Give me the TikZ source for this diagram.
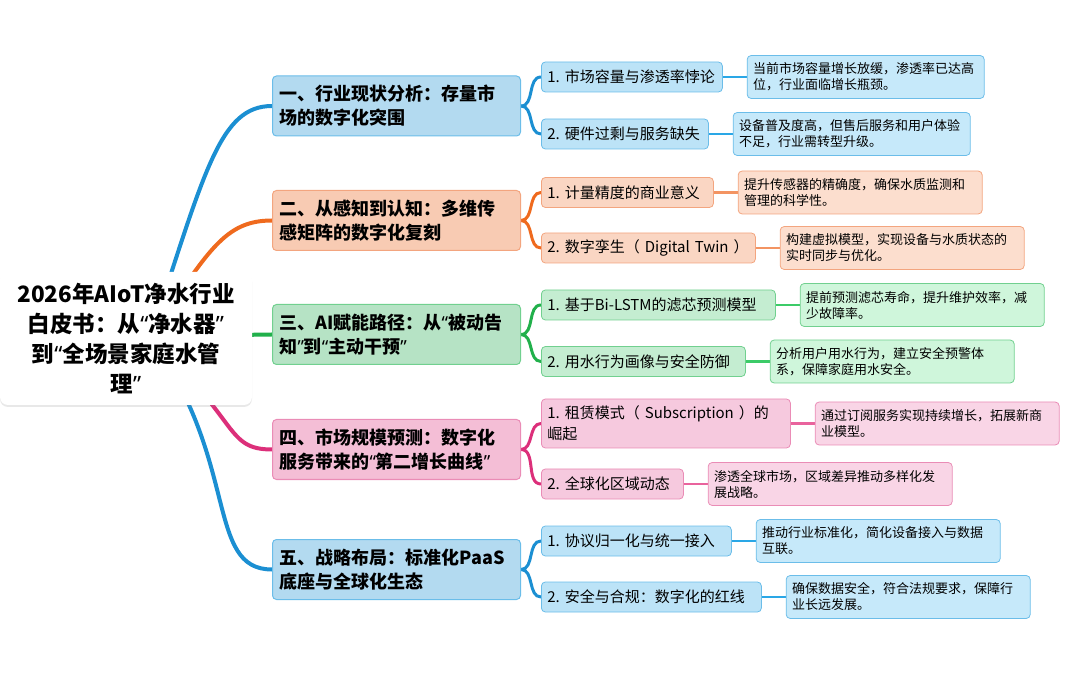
\documentclass[tikz,border=0pt]{standalone}
\usepackage{fontspec}
\setmainfont{Noto Sans CJK SC}
\newfontfamily\quotefont{Noto Sans}
\newcommand{\qL}{{\quotefont “}}
\newcommand{\qR}{{\quotefont ”}}
\usetikzlibrary{positioning,backgrounds,shadows}

% Branch colours
\definecolor{blueline}{HTML}{1B8FD2}
\definecolor{bluethin}{HTML}{2AA7E6}
\definecolor{blueedge}{HTML}{6BBDE9}
\definecolor{bluemain}{HTML}{B3DAF0}
\definecolor{bluesub}{HTML}{BCE3F7}
\definecolor{bluenote}{HTML}{C6E9FA}
\definecolor{orangeline}{HTML}{EF6A1E}
\definecolor{orangethin}{HTML}{F39462}
\definecolor{orangeedge}{HTML}{F3A57F}
\definecolor{orangemain}{HTML}{F8CBB3}
\definecolor{orangesub}{HTML}{FAD6C3}
\definecolor{orangenote}{HTML}{FCDECE}
\definecolor{greenline}{HTML}{21B04B}
\definecolor{greenthin}{HTML}{3CCB68}
\definecolor{greenedge}{HTML}{71D08F}
\definecolor{greenmain}{HTML}{B6E3C5}
\definecolor{greensub}{HTML}{C4EDD1}
\definecolor{greennote}{HTML}{CFF6DB}
\definecolor{pinkline}{HTML}{DC2F7A}
\definecolor{pinkthin}{HTML}{E9639D}
\definecolor{pinkedge}{HTML}{EA8CB6}
\definecolor{pinkmain}{HTML}{F4BED6}
\definecolor{pinksub}{HTML}{F6C9DE}
\definecolor{pinknote}{HTML}{F9D5E6}

\tikzset{
  rootnode/.style={fill=white, rounded corners=8pt, text width=244pt, minimum width=252pt,
    minimum height=133pt, align=center, inner sep=4pt,
    drop shadow={opacity=0.18, shadow xshift=0pt, shadow yshift=-2pt},
    font=\bfseries\fontsize{22.5}{30}\selectfont},
  mainnode/.style={draw=#1edge, fill=#1main, line width=1pt, rounded corners=4pt, anchor=west,
    text width=234pt, minimum height=60pt, inner xsep=7pt, align=left,
    font=\bfseries\fontsize{18}{24}\selectfont},
  subnode/.style={draw=#1edge, fill=#1sub, line width=0.8pt, rounded corners=4pt, anchor=west,
    minimum height=30pt, inner xsep=6pt, align=left, font=\fontsize{15}{21}\selectfont},
  notenode/.style={draw=#1edge, fill=#1note, line width=0.8pt, rounded corners=4pt,
    text width=232pt, minimum height=43pt, inner xsep=6pt, align=left,
    font=\fontsize{13}{16}\selectfont},
  rootline/.style={draw=#1line, line width=4pt, line cap=round},
  braceline/.style={draw=#1line, line width=3pt, line cap=round},
  noteline/.style={draw=#1thin, line width=2.5pt},
}

\begin{document}
\begin{tikzpicture}[x=1pt, y=-1pt]
    \useasboundingbox (0,0) rectangle (1080,676);

    % Root
    \node[rootnode] (root) at (126,338.5) {2026年AIoT净水行业\\白皮书：从\qL 净水器\qR\\到\qL 全场景家庭水管\\理\qR};

    % Main topics
    \node[mainnode=blue] (m1) at (272,106) {一、行业现状分析：存量市\\场的数字化突围};
    \node[mainnode=orange] (m2) at (272,220.5) {二、从感知到认知：多维传\\感矩阵的数字化复刻};
    \node[mainnode=green] (m3) at (272,334.5) {三、AI赋能路径：从\qL 被动告\\知\qR 到\qL 主动干预\qR};
    \node[mainnode=pink] (m4) at (272,449.5) {四、市场规模预测：数字化\\服务带来的\qL 第二增长曲线\qR};
    \node[mainnode=blue] (m5) at (272,569.5) {五、战略布局：标准化PaaS\\底座与全球化生态};

    % Subtopics
    \node[subnode=blue, text width=169pt] (s11) at (541,77) {1.~市场容量与渗透率悖论};
    \node[subnode=blue, text width=155pt] (s12) at (541,134) {2.~硬件过剩与服务缺失};
    \node[subnode=orange, text width=160pt] (s21) at (541,192.5) {1.~计量精度的商业意义};
    \node[subnode=orange, text width=202pt] (s22) at (541,248) {2.~数字孪生（~Digital~Twin~）};
    \node[subnode=green, text width=222pt] (s31) at (541,305) {1.~基于Bi-LSTM的滤芯预测模型};
    \node[subnode=green, text width=192pt] (s32) at (541,361.5) {2.~用水行为画像与安全防御};
    \node[subnode=pink, text width=237pt, minimum height=49pt] (s41) at (541,423.5) {1.~租赁模式（~Subscription~）的\\崛起};
    \node[subnode=pink, text width=130pt] (s42) at (541,484) {2.~全球化区域动态};
    \node[subnode=blue, text width=178pt] (s51) at (541,541) {1.~协议归一化与统一接入};
    \node[subnode=blue, text width=208pt] (s52) at (541,597) {2.~安全与合规：数字化的红线};

    % Notes
    \node[notenode=blue, text width=225pt, right=24pt of s11] (d11) {当前市场容量增长放缓，渗透率已达高\\位，行业面临增长瓶颈。};
    \node[notenode=blue, text width=225pt, right=24pt of s12] (d12) {设备普及度高，但售后服务和用户体验\\不足，行业需转型升级。};
    \node[notenode=orange, right=24pt of s21] (d21) {提升传感器的精确度，确保水质监测和\\管理的科学性。};
    \node[notenode=orange, right=24pt of s22] (d22) {构建虚拟模型，实现设备与水质状态的\\实时同步与优化。};
    \node[notenode=green, right=24pt of s31] (d31) {提前预测滤芯寿命，提升维护效率，减\\少故障率。};
    \node[notenode=green, right=24pt of s32] (d32) {分析用户用水行为，建立安全预警体\\系，保障家庭用水安全。};
    \node[notenode=pink, right=24pt of s41] (d41) {通过订阅服务实现持续增长，拓展新商\\业模型。};
    \node[notenode=pink, right=24pt of s42] (d42) {渗透全球市场，区域差异推动多样化发\\展战略。};
    \node[notenode=blue, right=24pt of s51] (d51) {推动行业标准化，简化设备接入与数据\\互联。};
    \node[notenode=blue, right=24pt of s52] (d52) {确保数据安全，符合法规要求，保障行\\业长远发展。};

    % Connectors
    \begin{scope}[on background layer]
        \draw[rootline=blue] ([xshift=24pt]root.center) .. controls (205,170) and (220,106) .. (m1.west);
        \draw[rootline=orange] ([xshift=24pt]root.center) .. controls (208,250) and (225,220.5) .. (m2.west);
        \draw[rootline=green] ([xshift=24pt]root.center) .. controls (220,338) and (230,334.5) .. (m3.west);
        \draw[rootline=pink] ([xshift=24pt]root.center) .. controls (240,420) and (225,449.5) .. (m4.west);
        \draw[rootline=blue] ([xshift=24pt]root.center) .. controls (240,460) and (205,569.5) .. (m5.west);

        \foreach \m/\s/\c in {m1/s11/blue, m1/s12/blue, m2/s21/orange, m2/s22/orange, m3/s31/green,
                              m3/s32/green, m4/s41/pink, m4/s42/pink, m5/s51/blue, m5/s52/blue}
            \draw[braceline=\c] (\m.east) to[out=0, in=180] (\s.west);

        \foreach \s/\d/\c in {s11/d11/blue, s12/d12/blue, s21/d21/orange, s22/d22/orange, s31/d31/green,
                              s32/d32/green, s41/d41/pink, s42/d42/pink, s51/d51/blue, s52/d52/blue}
            \draw[noteline=\c] (\s.east) -- (\d.west);
    \end{scope}

\end{tikzpicture}
\end{document}
